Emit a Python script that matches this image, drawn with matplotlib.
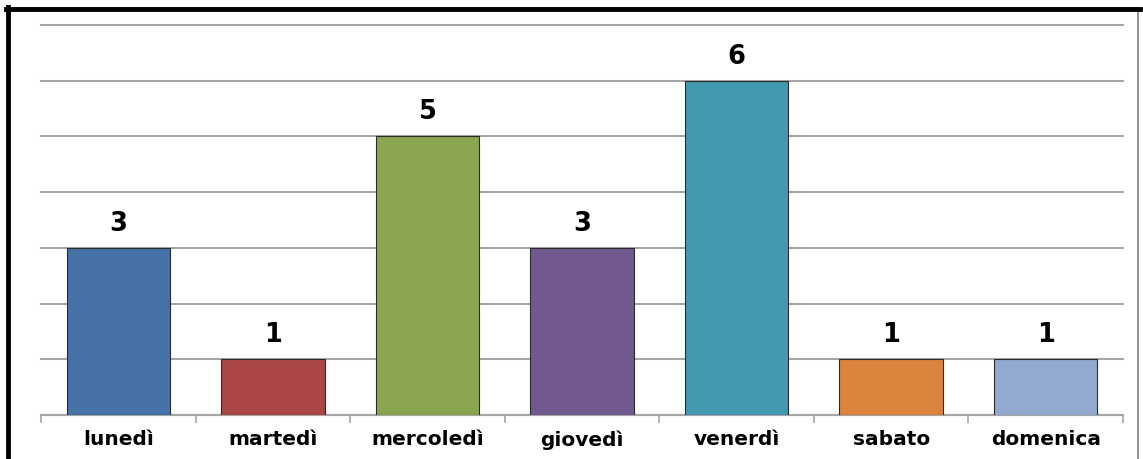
import matplotlib
matplotlib.use("Agg")
import matplotlib.pyplot as plt
from matplotlib.patches import Rectangle

# dati del grafico
giorni = ["lunedì", "martedì", "mercoledì", "giovedì", "venerdì", "sabato", "domenica"]
valori = [3, 1, 5, 3, 6, 1, 1]
colori = ["#4672A8", "#AA4644", "#89A54E", "#71588F", "#4298AF", "#DB843D", "#93A9CF"]

plt.rcParams['font.family'] = ['DejaVu Sans']

fig = plt.figure(figsize=(11.43, 4.59), dpi=100)
ax = fig.add_axes([0.0359, 0.0959, 0.9466, 0.8496])

x = list(range(len(giorni)))
bars = ax.bar(x, valori, width=0.67, color=colori, edgecolor="#2b2b2b", linewidth=0.8, zorder=3)

for b, v in zip(bars, valori):
    ax.annotate(str(v), (b.get_x() + b.get_width() / 2, v), xytext=(0, 8),
                textcoords="offset points", ha="center", va="bottom",
                fontsize=18.5, fontweight="bold", color="black")

ax.set_xlim(-0.5, len(giorni) - 0.5)
ax.set_ylim(0, 7)
ax.set_yticks(range(0, 8))
ax.set_yticklabels([])
ax.tick_params(axis="y", length=0)
ax.yaxis.grid(True, color="#a6a6a6", linewidth=1.5, zorder=0)
for gl in ax.get_ygridlines():
    gl.set_clip_on(False)

# etichette categorie e tacche ai bordi
ax.set_xticks(x)
ax.set_xticklabels(giorni, fontsize=14.5, fontweight="bold")
ax.tick_params(axis="x", which="major", length=0, pad=11)
ax.set_xticks([i - 0.5 for i in range(len(giorni) + 1)], minor=True)
ax.tick_params(axis="x", which="minor", length=6, color="#a6a6a6", width=1.2, direction="out")

for s in ["top", "right", "left"]:
    ax.spines[s].set_visible(False)
ax.spines["bottom"].set_color("#a6a6a6")
ax.spines["bottom"].set_linewidth(1.5)

# cornice
W, H = 1143, 459
fig.patches.append(Rectangle((8 / W, -0.1), (1138 - 8) / W, (459 - 8) / H + 0.1,
                             transform=fig.transFigure, fill=False,
                             edgecolor="#808080", linewidth=1.2))
fig.add_artist(plt.Line2D([6 / W, 1140 / W], [1 - 8.5 / H, 1 - 8.5 / H],
                          transform=fig.transFigure, color="black", linewidth=3.5))
fig.add_artist(plt.Line2D([8 / W, 8 / W], [0, 1 - 7 / H],
                          transform=fig.transFigure, color="black", linewidth=3.5))

fig.savefig("out.png", dpi=100)
